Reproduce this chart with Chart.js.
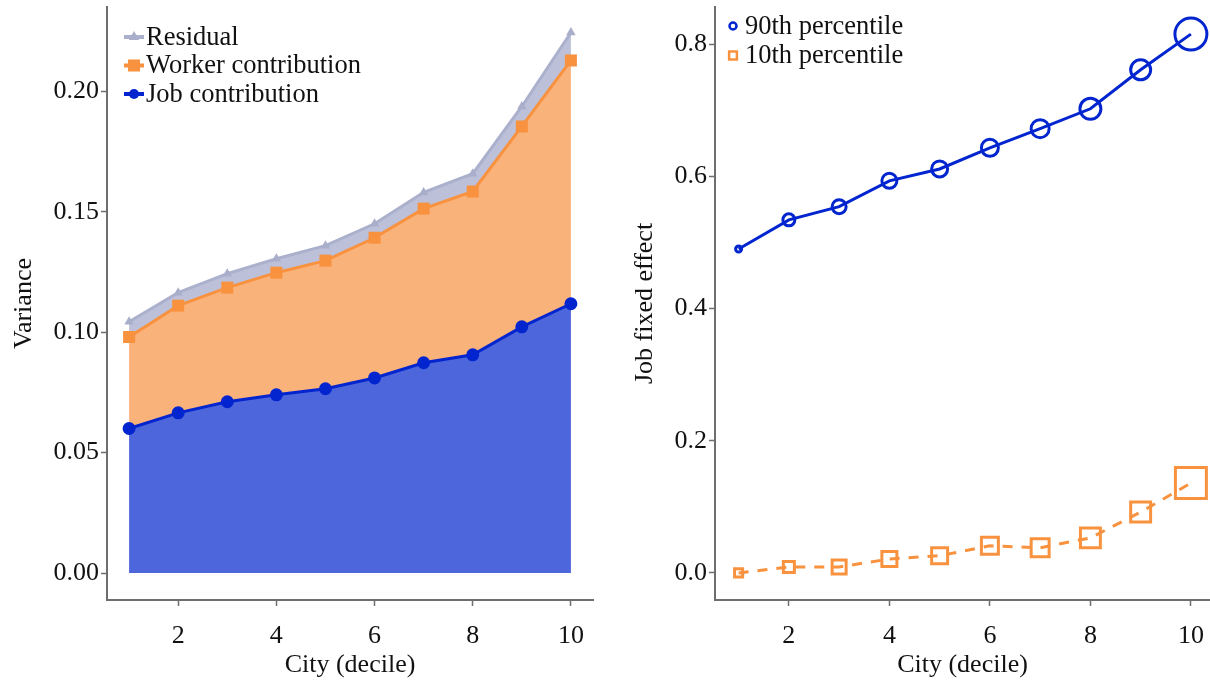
<!DOCTYPE html>
<html>
<head>
<meta charset="utf-8">
<title>City decile variance and job fixed effects</title>
<script src="https://cdn.jsdelivr.net/npm/chart.js@4.4.1/dist/chart.umd.min.js"></script>
<style>
    html, body { margin: 0; padding: 0; background: #fff; }
    #wrap { position: relative; width: 1210px; height: 682px; overflow: hidden; }
    #varianceChart { position: absolute; left: 0; top: 0; }
    #effectChart { position: absolute; left: 600px; top: 0; }
</style>
</head>
<body>
<div id="wrap">
    <canvas id="varianceChart" width="600" height="682"></canvas>
    <canvas id="effectChart" width="610" height="682"></canvas>
</div>
<script>
// data
const cityDeciles = [1, 2, 3, 4, 5, 6, 7, 8, 9, 10];
const jobContribution = [0.0600, 0.0665, 0.0711, 0.0740, 0.0765, 0.0810, 0.0873, 0.0906, 0.1022, 0.1118];
const workerContribution = [0.0380, 0.0445, 0.0474, 0.0507, 0.0532, 0.0582, 0.0640, 0.0678, 0.0832, 0.1010];
const residualContribution = [0.0063, 0.0054, 0.0058, 0.0058, 0.0062, 0.0058, 0.0067, 0.0074, 0.0083, 0.0116];

const percentile90 = [0.490, 0.534, 0.554, 0.593, 0.611, 0.643, 0.672, 0.702, 0.761, 0.815];
const percentile10 = [0.000, 0.009, 0.009, 0.021, 0.026, 0.041, 0.038, 0.053, 0.092, 0.136];

const xTicks = [2, 4, 6, 8, 10];
const varianceTicks = [0.00, 0.05, 0.10, 0.15, 0.20];
const effectTicks = [0.0, 0.2, 0.4, 0.6, 0.8];

// marker sizes grow with the decile in the right panel
const circleRadius = [3, 6, 7, 7.5, 8, 8.5, 9, 10.5, 10, 16];
const squareRadius = [5.7, 7.8, 9.9, 10.6, 11.3, 12, 12.7, 14.1, 14.1, 21.9];

const SERIF = '"Liberation Serif", "DejaVu Serif", "Times New Roman", serif';
const TEXT = '#111111';
const AXIS = '#6e6e6e';
const BLUE = '#0225cf';
const ORANGE = '#f9923f';

const points = (ys) => cityDeciles.map((c, i) => ({ x: c, y: ys[i] }));

// simple in-plot legend, drawn from the dataset styles
const cornerLegend = {
    id: 'cornerLegend',
    afterDraw(chart, args, opts) {
        const ctx = chart.ctx;
        ctx.save();
        ctx.font = `26.5px ${SERIF}`;
        ctx.textBaseline = 'middle';
        ctx.textAlign = 'left';
        opts.items.forEach((item, i) => {
            const ds = chart.data.datasets[item.dataset];
            const y = opts.y + i * opts.rowHeight;
            if (opts.withLine) {
                ctx.strokeStyle = ds.borderColor;
                ctx.lineWidth = 4;
                ctx.beginPath();
                ctx.moveTo(opts.x - 10, y);
                ctx.lineTo(opts.x + 10, y);
                ctx.stroke();
            }
            ctx.fillStyle = item.fill;
            ctx.strokeStyle = item.stroke;
            ctx.lineWidth = item.borderWidth;
            Chart.helpers.drawPoint(ctx, {
                pointStyle: ds.pointStyle,
                radius: item.radius,
                rotation: 0,
                borderWidth: item.borderWidth
            }, opts.x, y);
            ctx.fillStyle = TEXT;
            ctx.fillText(ds.label, opts.textX, y + 1);
        });
        ctx.restore();
    }
};

function tickFont() {
    return { family: SERIF, size: 26 };
}

// no extra room for overhanging tick labels, the plot area is fixed
function noPadding(s) {
    s.paddingLeft = 0;
    s.paddingRight = 0;
    s.paddingTop = 0;
    s.paddingBottom = 0;
}

function xAxis(min, max) {
    return {
        type: 'linear',
        min: min,
        max: max,
        afterBuildTicks: s => { s.ticks = xTicks.map(v => ({ value: v })); },
        afterFit: s => { s.height = 82; noPadding(s); },
        border: { display: true, color: AXIS, width: 2 },
        grid: { display: true, drawOnChartArea: false, drawTicks: true, tickLength: 6, tickColor: AXIS, tickWidth: 1.5 },
        ticks: { color: TEXT, font: tickFont(), padding: 15, autoSkip: false, maxRotation: 0, callback: v => String(v) },
        title: { display: true, text: 'City (decile)', color: TEXT, font: tickFont(), padding: { top: 0, bottom: 1 } }
    };
}

function yAxis(min, max, ticks, digits, width, title, titlePad, stacked) {
    return {
        type: 'linear',
        stacked: stacked,
        min: min,
        max: max,
        afterBuildTicks: s => { s.ticks = ticks.map(v => ({ value: v })); },
        afterFit: s => { s.width = width; noPadding(s); },
        border: { display: true, color: AXIS, width: 2 },
        grid: { display: true, drawOnChartArea: false, drawTicks: true, tickLength: 6, tickColor: AXIS, tickWidth: 1.5 },
        ticks: { color: TEXT, font: tickFont(), padding: 2, autoSkip: false, callback: v => Number(v).toFixed(digits) },
        title: { display: true, text: title, color: TEXT, font: tickFont(), padding: { top: titlePad, bottom: 0 } }
    };
}

new Chart(document.getElementById('varianceChart'), {
    type: 'line',
    data: {
        datasets: [
            {
                label: 'Job contribution',
                data: points(jobContribution),
                borderColor: BLUE,
                backgroundColor: '#4d66db',
                fill: 'origin',
                borderWidth: 3,
                pointStyle: 'circle',
                pointRadius: 5,
                pointBackgroundColor: BLUE,
                pointBorderColor: BLUE
            },
            {
                label: 'Worker contribution',
                data: points(workerContribution),
                borderColor: ORANGE,
                backgroundColor: '#fab27b',
                fill: '-1',
                borderWidth: 3,
                pointStyle: 'rect',
                pointRadius: 8.5,
                pointBorderWidth: 0,
                pointBackgroundColor: ORANGE,
                pointBorderColor: ORANGE
            },
            {
                label: 'Residual',
                data: points(residualContribution),
                borderColor: '#abb0cd',
                backgroundColor: '#bcc1d9',
                fill: '-1',
                borderWidth: 3,
                pointStyle: 'triangle',
                pointRadius: 5.5,
                pointBorderWidth: 0,
                pointBackgroundColor: '#a9aecb',
                pointBorderColor: '#a9aecb'
            }
        ]
    },
    options: {
        responsive: false,
        animation: false,
        events: [],
        clip: false,
        elements: { line: { tension: 0 } },
        layout: { autoPadding: false, padding: { top: 7, right: 7, left: 0, bottom: 0 } },
        scales: {
            x: xAxis(0.55, 10.45),
            y: yAxis(-0.0112, 0.235, varianceTicks, 2, 107, 'Variance', 9, true)
        },
        plugins: {
            legend: { display: false },
            tooltip: { enabled: false },
            cornerLegend: {
                x: 134, textX: 146, y: 37, rowHeight: 28.5, withLine: true,
                items: [
                    { dataset: 2, radius: 6, fill: '#a9aecb', stroke: '#a9aecb', borderWidth: 0 },
                    { dataset: 1, radius: 8.5, fill: ORANGE, stroke: ORANGE, borderWidth: 0 },
                    { dataset: 0, radius: 5, fill: BLUE, stroke: BLUE, borderWidth: 0 }
                ]
            }
        }
    },
    plugins: [cornerLegend]
});

new Chart(document.getElementById('effectChart'), {
    type: 'line',
    data: {
        datasets: [
            {
                label: '90th percentile',
                data: points(percentile90),
                borderColor: BLUE,
                borderWidth: 3,
                fill: false,
                pointStyle: 'circle',
                pointRadius: circleRadius,
                pointBorderWidth: 3,
                pointBackgroundColor: 'rgba(0,0,0,0)',
                pointBorderColor: BLUE
            },
            {
                label: '10th percentile',
                data: points(percentile10),
                borderColor: ORANGE,
                borderWidth: 3,
                borderDash: [10, 9],
                fill: false,
                pointStyle: 'rect',
                pointRadius: squareRadius,
                pointBorderWidth: 3,
                pointBackgroundColor: 'rgba(0,0,0,0)',
                pointBorderColor: ORANGE
            }
        ]
    },
    options: {
        responsive: false,
        animation: false,
        events: [],
        clip: false,
        elements: { line: { tension: 0 } },
        layout: { autoPadding: false, padding: { top: 7, right: 0, left: 0, bottom: 0 } },
        scales: {
            x: xAxis(0.53, 10.38),
            y: yAxis(-0.041, 0.856, effectTicks, 1, 115, 'Job fixed effect', 30, false)
        },
        plugins: {
            legend: { display: false },
            tooltip: { enabled: false },
            cornerLegend: {
                x: 133, textX: 145, y: 26, rowHeight: 29.5, withLine: false,
                items: [
                    { dataset: 0, radius: 3.5, fill: 'rgba(0,0,0,0)', stroke: BLUE, borderWidth: 2.5 },
                    { dataset: 1, radius: 5.5, fill: 'rgba(0,0,0,0)', stroke: ORANGE, borderWidth: 2.5 }
                ]
            }
        }
    },
    plugins: [cornerLegend]
});
</script>
</body>
</html>
